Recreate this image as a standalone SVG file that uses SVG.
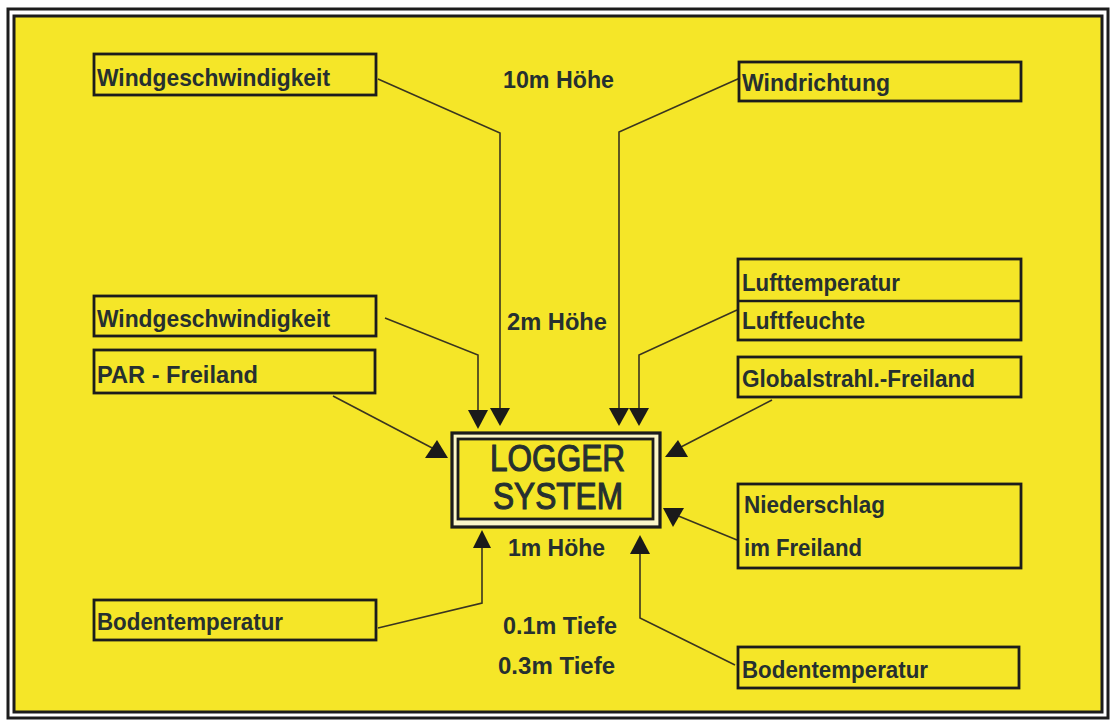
<svg xmlns="http://www.w3.org/2000/svg" width="1112" height="724" viewBox="0 0 1112 724">
<style>
.box{fill:none;stroke:#1c1c1c;stroke-width:2.8}
.lbl{font-family:"Liberation Sans",Arial,sans-serif;font-weight:bold;font-size:24px;fill:#263030}
.big{font-family:"Liberation Sans",Arial,sans-serif;font-size:36px;fill:#263030;stroke:#263030;stroke-width:1.1}
.ln{fill:none;stroke:#3a3520;stroke-width:1.6}
.ah{fill:#1a1a1a}
</style>
<rect x="0" y="0" width="1112" height="724" fill="#ffffff"/>
<g id="frame">
<rect x="8" y="9" width="1100" height="709" fill="#ffffff" stroke="#1c1c1c" stroke-width="3"/>
<rect x="14" y="16" width="1088" height="696" fill="#F5E628" stroke="#1c1c1c" stroke-width="3"/>
</g>
<g id="connectors">
<polyline class="ln" points="378,79 500,133 500,410"/>
<polyline class="ln" points="385,318 478,355 478,410"/>
<polyline class="ln" points="740,78 619,132 619,410"/>
<polyline class="ln" points="737,310 639,355 639,410"/>
<polyline class="ln" points="333,396 436,450"/>
<polyline class="ln" points="772,400 679,448"/>
<polyline class="ln" points="737,540 676,515"/>
<polyline class="ln" points="378,628 482,603 482,546"/>
<polyline class="ln" points="735,665 640,618 640,552"/>
<polygon class="ah" points="468,410 488,410 478,429"/>
<polygon class="ah" points="490,408 510,408 500,426"/>
<polygon class="ah" points="609,408 629,408 619,426"/>
<polygon class="ah" points="629,408 649,408 639,426"/>
<polygon class="ah" points="425,458 448,458 437,440"/>
<polygon class="ah" points="665,457 688,457 678,440"/>
<polygon class="ah" points="663,508 684,508 673,527"/>
<polygon class="ah" points="473,548 491,548 482,530"/>
<polygon class="ah" points="630,554 650,554 640,535"/>
</g>
<g id="wind10">
<rect class="box" x="94" y="54" width="282" height="41"/>
<text class="lbl" x="97" y="86" textLength="233" lengthAdjust="spacingAndGlyphs">Windgeschwindigkeit</text>
</g>
<g id="windrichtung">
<rect class="box" x="739" y="62" width="282" height="39"/>
<text class="lbl" x="742" y="91" textLength="148" lengthAdjust="spacingAndGlyphs">Windrichtung</text>
</g>
<g id="label10m">
<text class="lbl" x="503" y="88" textLength="111" lengthAdjust="spacingAndGlyphs">10m Höhe</text>
</g>
<g id="wind2">
<rect class="box" x="94" y="296" width="282" height="40"/>
<text class="lbl" x="97" y="327" textLength="233" lengthAdjust="spacingAndGlyphs">Windgeschwindigkeit</text>
</g>
<g id="par">
<rect class="box" x="94" y="350" width="281" height="43"/>
<text class="lbl" x="97" y="383" textLength="161" lengthAdjust="spacingAndGlyphs">PAR - Freiland</text>
</g>
<g id="label2m">
<text class="lbl" x="507" y="330" textLength="100" lengthAdjust="spacingAndGlyphs">2m Höhe</text>
</g>
<g id="luft">
<rect class="box" x="738" y="259" width="283" height="81"/>
<line x1="738" y1="301" x2="1021" y2="301" stroke="#1c1c1c" stroke-width="2.6"/>
<text class="lbl" x="742" y="291" textLength="158" lengthAdjust="spacingAndGlyphs">Lufttemperatur</text>
<text class="lbl" x="742" y="329" textLength="123" lengthAdjust="spacingAndGlyphs">Luftfeuchte</text>
</g>
<g id="global">
<rect class="box" x="738" y="357" width="283" height="40"/>
<text class="lbl" x="742" y="387" textLength="233" lengthAdjust="spacingAndGlyphs">Globalstrahl.-Freiland</text>
</g>
<g id="logger">
<rect x="452" y="433" width="208" height="94" fill="#fbf6c8" stroke="#1c1c1c" stroke-width="3.2"/>
<rect x="458" y="439" width="195" height="80" fill="#F5E628" stroke="#1c1c1c" stroke-width="2.8"/>
<text class="big" x="490" y="471" textLength="135" lengthAdjust="spacingAndGlyphs">LOGGER</text>
<text class="big" x="493" y="509" textLength="130" lengthAdjust="spacingAndGlyphs">SYSTEM</text>
</g>
<g id="label1m">
<text class="lbl" x="508" y="556" textLength="97" lengthAdjust="spacingAndGlyphs">1m Höhe</text>
</g>
<g id="nieder">
<rect class="box" x="738" y="484" width="283" height="84"/>
<text class="lbl" x="744" y="513" textLength="141" lengthAdjust="spacingAndGlyphs">Niederschlag</text>
<text class="lbl" x="744" y="556" textLength="118" lengthAdjust="spacingAndGlyphs">im Freiland</text>
</g>
<g id="boden1">
<rect class="box" x="94" y="600" width="282" height="40"/>
<text class="lbl" x="97" y="630" textLength="186" lengthAdjust="spacingAndGlyphs">Bodentemperatur</text>
</g>
<g id="boden2">
<rect class="box" x="738" y="647" width="281" height="41"/>
<text class="lbl" x="742" y="678" textLength="186" lengthAdjust="spacingAndGlyphs">Bodentemperatur</text>
</g>
<g id="tiefe">
<text class="lbl" x="503" y="634" textLength="114" lengthAdjust="spacingAndGlyphs">0.1m Tiefe</text>
<text class="lbl" x="498" y="674" textLength="117" lengthAdjust="spacingAndGlyphs">0.3m Tiefe</text>
</g>
</svg>
